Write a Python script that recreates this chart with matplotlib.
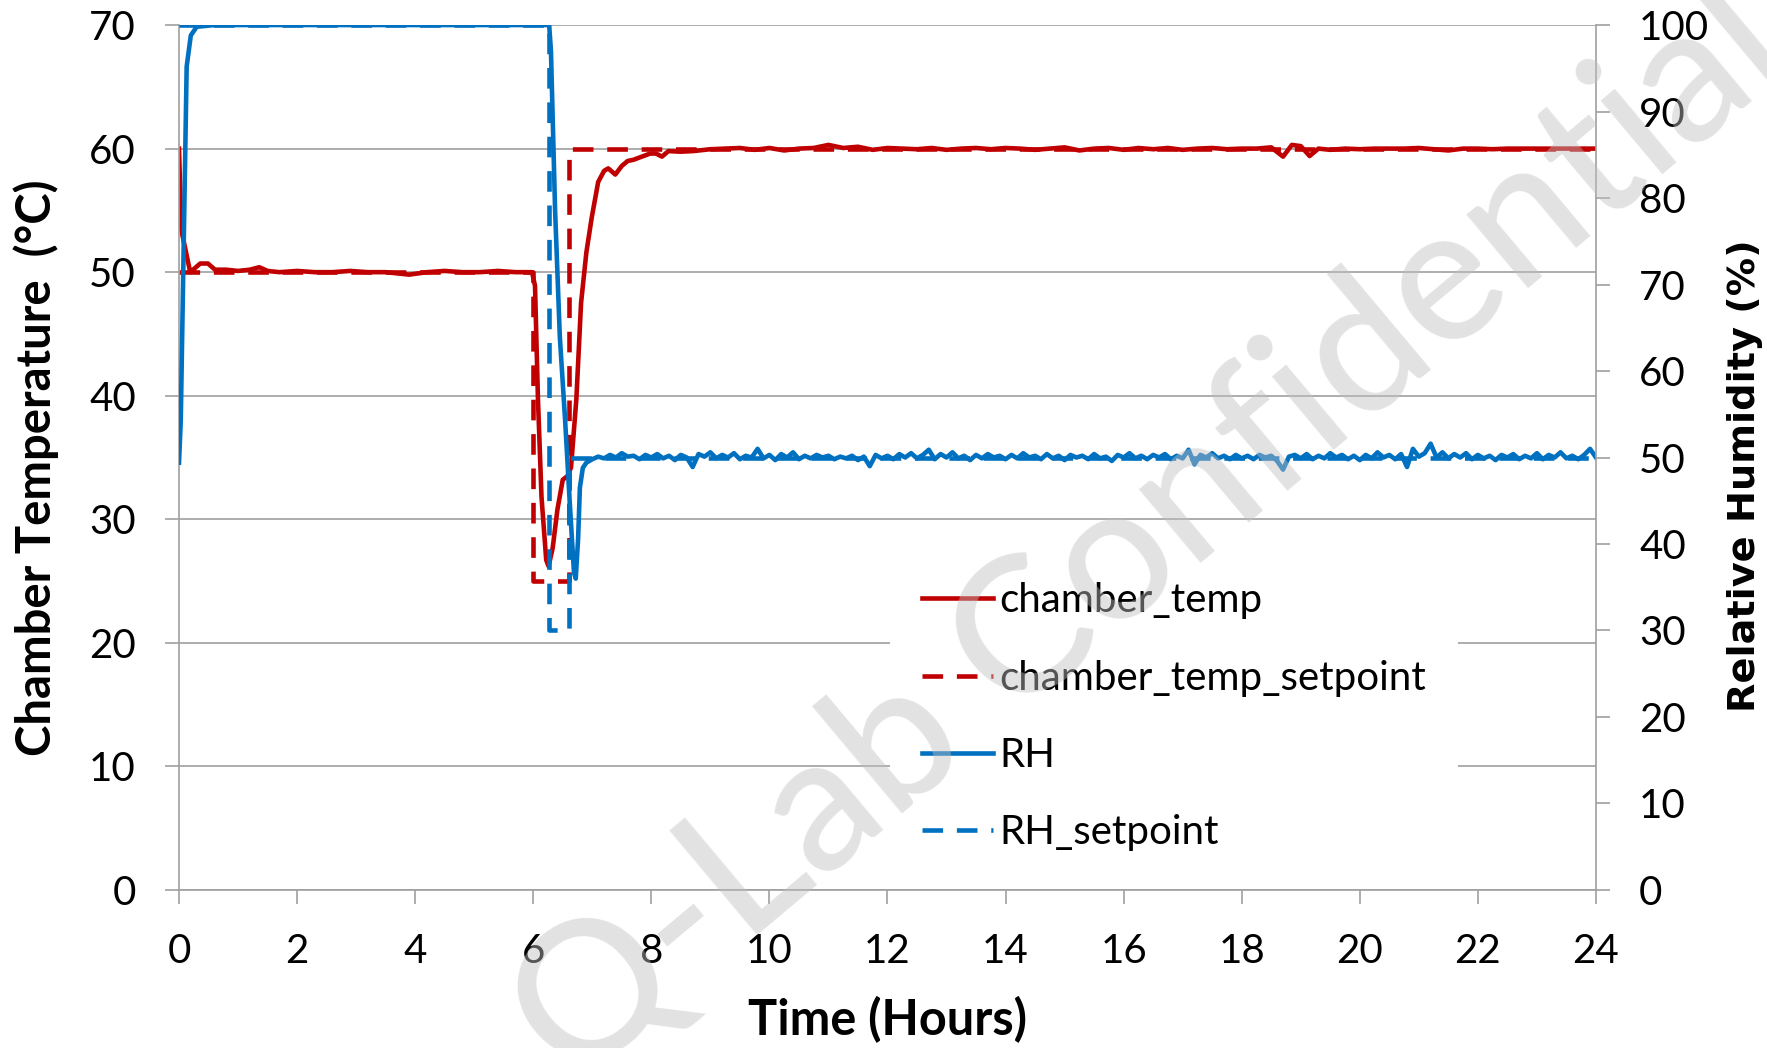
import matplotlib
matplotlib.use("Agg")
import matplotlib.pyplot as plt
from matplotlib.lines import Line2D

plt.rcParams["font.family"] = ["Lato", "DejaVu Sans"]

# -----------------------------
# Data
# -----------------------------
temp_time = [0.0, 0.04, 0.19, 0.36, 0.49, 0.61, 0.8, 1.0, 1.2, 1.36, 1.5, 1.7, 2.0,
             2.3, 2.6, 2.9, 3.2, 3.5, 3.9, 4.2, 4.5, 4.8, 5.1, 5.4, 5.7, 5.98,
             6.03, 6.08, 6.14, 6.22, 6.26, 6.33, 6.41, 6.5, 6.58, 6.64, 6.73, 6.81,
             6.9, 6.99, 7.1, 7.2, 7.27, 7.39, 7.5, 7.6, 7.7, 7.84, 7.98, 8.08,
             8.18, 8.29, 8.49, 8.71,
             9.0, 9.25, 9.5, 9.75, 10.0, 10.25, 10.5, 10.75, 11.0, 11.25, 11.5,
             11.75, 12.0, 12.25, 12.5, 12.75, 13.0, 13.25, 13.5, 13.75, 14.0,
             14.25, 14.5, 14.75, 15.0, 15.25, 15.5, 15.75, 16.0, 16.25, 16.5,
             16.75, 17.0, 17.25, 17.5, 17.75, 18.0, 18.25, 18.5, 18.7, 18.85,
             19.0, 19.15, 19.3, 19.5, 19.75, 20.0, 20.25, 20.5, 20.75, 21.0,
             21.25, 21.5, 21.75, 22.0, 22.25, 22.5, 22.75, 23.0, 23.25, 23.5,
             23.75, 24.0]
temp_vals = [60.0, 53.4, 50.0, 50.7, 50.7, 50.2, 50.2, 50.1, 50.2, 50.4, 50.1, 50.0, 50.1,
             50.0, 50.0, 50.1, 50.0, 50.0, 49.8, 50.0, 50.1, 50.0, 50.0, 50.1, 50.0, 50.0,
             48.9, 39.7, 31.8, 26.7, 26.2, 27.7, 30.8, 33.2, 33.5, 34.2, 39.7, 47.5,
             51.6, 54.4, 57.3, 58.2, 58.4, 57.9, 58.6, 59.0, 59.1, 59.35, 59.6, 59.6,
             59.35, 59.8, 59.75, 59.8,
             59.95, 60.0, 60.05, 59.9, 60.05, 59.85, 60.0, 60.05, 60.3, 60.05, 60.15,
             59.9, 60.05, 60.0, 59.95, 60.05, 59.9, 60.0, 60.05, 59.95, 60.05,
             60.0, 59.9, 60.0, 60.1, 59.85, 60.0, 60.05, 59.9, 60.05, 59.95,
             60.05, 59.9, 60.0, 60.05, 59.95, 60.0, 60.0, 60.1, 59.35, 60.3,
             60.2, 59.4, 60.0, 59.9, 60.0, 59.95, 60.0, 60.0, 60.0, 60.05,
             59.95, 59.85, 60.0, 60.0, 59.95, 60.0, 60.0, 60.0, 60.0, 60.0,
             60.0, 60.0]

temp_sp_time = [0.0, 6.0, 6.0, 6.6, 6.6, 24.0]
temp_sp_vals = [50, 50, 25, 25, 60, 60]

rh_time = [0.0, 0.03, 0.13, 0.2, 0.3, 0.6, 6.27, 6.3, 6.37, 6.45, 6.54, 6.62, 6.69,
           6.72, 6.76, 6.79, 6.84, 6.9,
           7.0, 7.1, 7.2, 7.3, 7.4, 7.5, 7.6, 7.7, 7.8, 7.9,
           8.0, 8.1, 8.2, 8.3, 8.4, 8.5, 8.6, 8.7, 8.8, 8.9,
           9.0, 9.1, 9.2, 9.3, 9.4, 9.5, 9.6, 9.7, 9.8, 9.9,
           10.0, 10.1, 10.2, 10.3, 10.4, 10.5, 10.6, 10.7, 10.8, 10.9,
           11.0, 11.1, 11.2, 11.3, 11.4, 11.5, 11.6, 11.7, 11.8, 11.9,
           12.0, 12.1, 12.2, 12.3, 12.4, 12.5, 12.6, 12.7, 12.8, 12.9,
           13.0, 13.1, 13.2, 13.3, 13.4, 13.5, 13.6, 13.7, 13.8, 13.9,
           14.0, 14.1, 14.2, 14.3, 14.4, 14.5, 14.6, 14.7, 14.8, 14.9,
           15.0, 15.1, 15.2, 15.3, 15.4, 15.5, 15.6, 15.7, 15.8, 15.9,
           16.0, 16.1, 16.2, 16.3, 16.4, 16.5, 16.6, 16.7, 16.8, 16.9,
           17.0, 17.1, 17.2, 17.3, 17.4, 17.5, 17.6, 17.7, 17.8, 17.9,
           18.0, 18.1, 18.2, 18.3, 18.4, 18.5, 18.6, 18.7, 18.8, 18.9,
           19.0, 19.1, 19.2, 19.3, 19.4, 19.5, 19.6, 19.7, 19.8, 19.9,
           20.0, 20.1, 20.2, 20.3, 20.4, 20.5, 20.6, 20.7, 20.8, 20.9,
           21.0, 21.1, 21.2, 21.3, 21.4, 21.5, 21.6, 21.7, 21.8, 21.9,
           22.0, 22.1, 22.2, 22.3, 22.4, 22.5, 22.6, 22.7, 22.8, 22.9,
           23.0, 23.1, 23.2, 23.3, 23.4, 23.5, 23.6, 23.7, 23.8, 23.9,
           24.0]
rh_vals = [49.4, 54.3, 95.2, 98.8, 99.8, 100.0, 100.0, 97.0, 78.6, 64.0, 54.3, 44.6, 36.7,
           36.0, 40.6, 46.5, 48.8, 49.4,
           49.8, 50.1, 49.9, 50.3, 50.0, 50.5, 50.1, 50.2, 49.8, 50.3,
           50.0, 50.4, 49.9, 50.2, 49.7, 50.3, 50.0, 48.9, 50.4, 50.1,
           50.6, 49.9, 50.3, 50.0, 50.5, 49.8, 50.2, 50.0, 51.0, 49.9,
           50.3, 49.7, 50.4, 50.0, 50.6, 49.8, 50.2, 49.9, 50.3, 50.0,
           50.2, 49.8, 50.1, 49.9, 50.2, 49.7, 50.1, 49.0, 50.3, 49.9,
           50.2, 49.8, 50.4, 50.0, 50.5, 49.9, 50.3, 50.9, 49.8, 50.4,
           50.0, 50.6, 49.9, 50.2, 49.7, 50.3, 49.9, 50.4, 50.0, 50.2,
           49.8, 50.3, 49.9, 50.5, 50.0, 50.2, 49.8, 50.4, 49.9, 50.2,
           49.7, 50.3, 50.0, 50.2, 49.8, 50.4, 49.9, 50.1, 49.6, 50.3,
           50.0, 50.5, 49.9, 50.2, 49.8, 50.3, 50.0, 50.4, 49.8, 50.2,
           49.9, 50.9, 49.2, 50.3, 50.0, 50.5, 49.9, 50.2, 49.8, 50.3,
           49.9, 50.2, 49.8, 50.3, 50.0, 50.2, 49.6, 48.6, 50.1, 50.3,
           49.9, 50.4, 49.8, 50.2, 49.9, 50.5, 50.0, 50.3, 49.8, 50.2,
           49.7, 50.3, 49.9, 50.6, 50.0, 50.3, 49.8, 50.4, 48.9, 51.0,
           50.1, 50.5, 51.6, 50.0, 50.6, 49.9, 50.4, 50.0, 50.5, 49.8,
           50.3, 49.9, 50.2, 49.7, 50.3, 50.0, 50.4, 49.8, 50.2, 49.9,
           50.5, 49.8, 50.3, 50.0, 50.6, 49.9, 50.2, 49.8, 50.3, 51.0,
           50.0]

rh_sp_time = [0.0, 6.27, 6.27, 6.6, 6.6, 24.0]
rh_sp_vals = [100, 100, 30, 30, 50, 50]

x_ticks = list(range(0, 25, 2))
temp_ticks = list(range(0, 71, 10))
rh_ticks = list(range(0, 101, 10))

# -----------------------------
# Plot
# -----------------------------
red = "#C00000"
blue = "#0070C0"
grey = "#A0A0A0"
lw = 3.3
dash = (4.5, 3.0)

fig = plt.figure(figsize=(17.67, 10.48), dpi=100)
ax = fig.add_axes([0.1013, 0.1508, 0.8019, 0.8253])
ax2 = ax.twinx()

ax.plot(temp_time, temp_vals, color=red, lw=lw, label="chamber_temp")
ax.plot(temp_sp_time, temp_sp_vals, color=red, lw=lw, dashes=dash,
        label="chamber_temp_setpoint")
ax2.plot(rh_time, rh_vals, color=blue, lw=lw, label="RH")
ax2.plot(rh_sp_time, rh_sp_vals, color=blue, lw=lw, dashes=dash, label="RH_setpoint")

ax.set_xlim(0, 24)
ax.set_ylim(0, 70)
ax2.set_ylim(0, 100)
ax.set_xticks(x_ticks)
ax.set_yticks(temp_ticks)
ax2.set_yticks(rh_ticks)

ax.grid(axis="y", color=grey, lw=1.2)
ax.set_axisbelow(True)

for a in (ax, ax2):
    for s in a.spines.values():
        s.set_visible(False)
ax.spines["left"].set_visible(True)
ax.spines["bottom"].set_visible(True)
ax2.spines["right"].set_visible(True)
for s in (ax.spines["left"], ax.spines["bottom"], ax2.spines["right"]):
    s.set_color(grey)
    s.set_linewidth(1.2)

ax.tick_params(axis="both", direction="out", length=10, width=1.2, color=grey,
               labelsize=29, pad=21)
ax2.tick_params(axis="y", direction="out", length=10, width=1.2, color=grey,
                labelsize=29, pad=21)

ax.set_ylabel("Chamber Temperature  (°C)", fontsize=34, fontweight="bold", va="center")
ax.yaxis.set_label_coords(-0.101, 0.488)
ax.set_xlabel("Time (Hours)", fontsize=35, fontweight="bold", va="center")
ax.xaxis.set_label_coords(0.5, -0.150)
ax2.set_ylabel("Relative Humidity (%)", fontsize=27.5, fontweight="bold",
               family="DejaVu Sans", rotation=90, va="center")
ax2.yaxis.set_label_coords(1.105, 0.479)

handles = [Line2D([], [], color=red, lw=lw),
           Line2D([], [], color=red, lw=lw, dashes=dash),
           Line2D([], [], color=blue, lw=lw),
           Line2D([], [], color=blue, lw=lw, dashes=dash)]
labels = ["chamber_temp", "chamber_temp_setpoint", "RH", "RH_setpoint"]
leg = ax2.legend(handles, labels, loc="upper left",
                 bbox_to_anchor=(870 / 1767, 1 - 530 / 1048),
                 bbox_transform=fig.transFigure, fontsize=29, frameon=True,
                 facecolor="white", edgecolor="none", framealpha=1,
                 fancybox=False, borderpad=0.8, handlelength=1.76,
                 handletextpad=0.15, labelspacing=1.0)

# watermark
fig.text(0.651, 0.49, "Q-Lab Confidential", rotation=40, rotation_mode="anchor",
         ha="center", va="center", fontsize=137, fontweight=500, color="#C0C0C0",
         alpha=0.45, zorder=10)

fig.savefig("out.png", dpi=100)
